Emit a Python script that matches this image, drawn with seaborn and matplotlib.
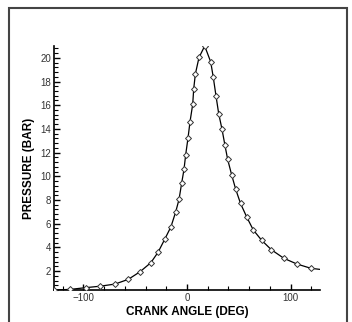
import matplotlib
matplotlib.use("Agg")
import matplotlib.pyplot as plt
from matplotlib.patches import Rectangle
from matplotlib.ticker import MultipleLocator
import seaborn as sns
import pandas as pd

crank_angle = [-128.5, -113, -97.6, -84, -69.6, -56.7, -45.4, -35, -28, -21.6,
               -15.5, -10.9, -7.7, -5.2, -2.9, -1.3, 1, 2.9, 5.5, 6.5, 8.1,
               11.6, 17.1, 22.9, 25.4, 28, 30.6, 33.8, 36.7, 39.3, 43.2, 47,
               51.7, 57.7, 64.1, 72.2, 81.5, 93.7, 106.3, 119.8, 128.5]
pressure = [0.4, 0.45, 0.6, 0.72, 0.9, 1.3, 1.94, 2.7, 3.58, 4.67,
            5.74, 7.0, 8.05, 9.4, 10.58, 11.8, 13.25, 14.6, 16.07, 17.4, 18.65,
            20.03, 21.0, 19.66, 18.35, 16.8, 15.3, 13.98, 12.6, 11.42, 10.1, 8.92,
            7.71, 6.56, 5.46, 4.59, 3.8, 3.07, 2.59, 2.23, 2.14]
marker_angle = crank_angle[:-1]
marker_pressure = pressure[:-1]

x_ticks = [-100, 0, 100]
y_ticks = [2, 4, 6, 8, 10, 12, 14, 16, 18, 20]

sns.set_theme(style="white")
plt.rcParams['font.family'] = ['Liberation Sans', 'DejaVu Sans']

df = pd.DataFrame({"angle": crank_angle, "p": pressure})
dm = pd.DataFrame({"angle": marker_angle, "p": marker_pressure})

fig = plt.figure(figsize=(3.52, 3.22), dpi=100)
fig.patch.set_facecolor("white")
fig.patches.append(Rectangle((9 / 352, -0.1), 338 / 352, 1 - 8 / 322 + 0.1,
                             transform=fig.transFigure, fill=False,
                             edgecolor="#444444", linewidth=1.5))
ax = fig.add_axes([54 / 352, 32 / 322, 266 / 352, 244 / 322])

sns.lineplot(data=df, x="angle", y="p", ax=ax, color="black", linewidth=0.9,
             sort=False, estimator=None)
sns.scatterplot(data=dm, x="angle", y="p", ax=ax, marker="D", s=9,
                facecolor="white", edgecolor="#333333", linewidth=0.7, zorder=3)

ax.set_xlim(-128.5, 128.5)
ax.set_ylim(0.4, 21.0)
ax.set_xticks(x_ticks)
ax.set_yticks(y_ticks)
ax.xaxis.set_minor_locator(MultipleLocator(20))
ax.yaxis.set_minor_locator(MultipleLocator(0.4))

for s in ["top", "right"]:
    ax.spines[s].set_visible(False)
for s in ["left", "bottom"]:
    ax.spines[s].set_color("black")
    ax.spines[s].set_linewidth(1.2)

ax.tick_params(which="major", direction="in", length=4.5, width=1,
               color="black", labelsize=7, labelcolor="#333333", pad=2,
               left=True, bottom=True)
ax.tick_params(which="minor", direction="in", length=3, width=0.8,
               color="black", left=True, bottom=True)

ax.set_xlabel("CRANK ANGLE (DEG)", fontsize=8.5, fontweight="bold",
              labelpad=2, color="black")
ax.set_ylabel("PRESSURE (BAR)", fontsize=8.5, fontweight="bold",
              labelpad=4, color="black")

fig.savefig("out.png", dpi=100)
